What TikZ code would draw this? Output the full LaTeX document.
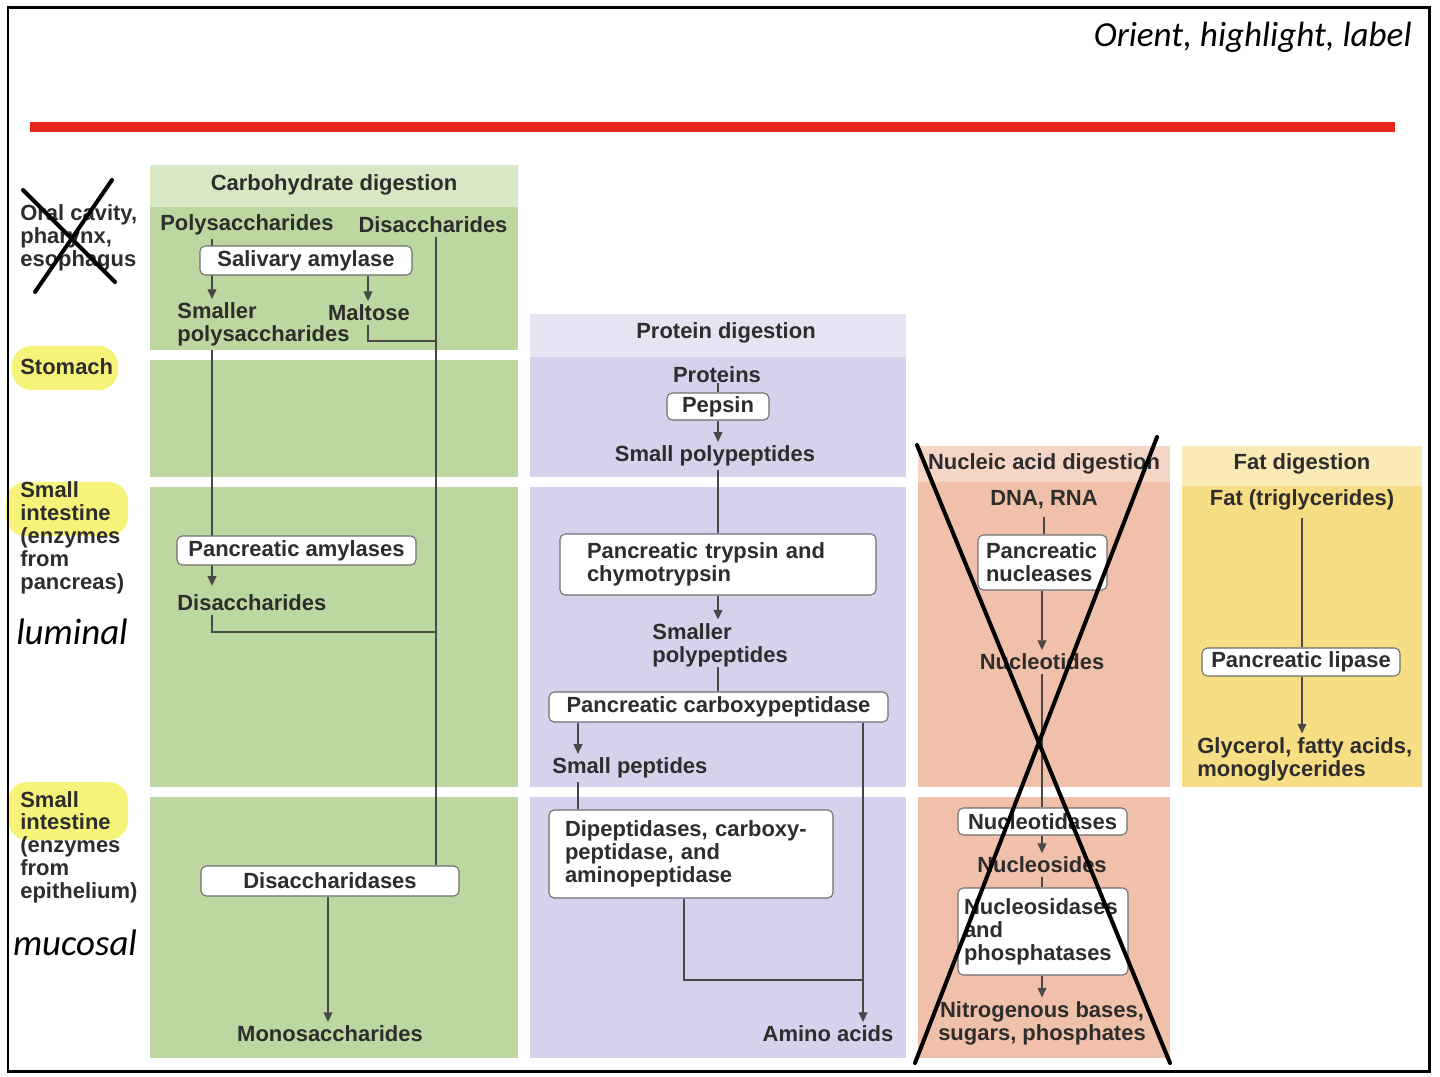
\documentclass[tikz,border=0pt]{standalone}
\usepackage{fontspec}
\setmainfont{Liberation Sans}
\newfontfamily\notefont{Carlito}
\usetikzlibrary{arrows.meta,positioning}

\definecolor{inkgray}{RGB}{45,45,45}
\definecolor{wiregray}{RGB}{72,72,72}
\definecolor{boxgray}{RGB}{110,110,110}
\definecolor{carbtop}{RGB}{214,233,196}
\definecolor{carbbody}{RGB}{188,216,160}
\definecolor{prottop}{RGB}{228,228,242}
\definecolor{protbody}{RGB}{212,211,235}
\definecolor{nuctop}{RGB}{245,214,198}
\definecolor{nucbody}{RGB}{240,192,170}
\definecolor{fattop}{RGB}{250,234,182}
\definecolor{fatbody}{RGB}{247,222,132}
\definecolor{marker}{RGB}{246,243,122}
\definecolor{redbar}{RGB}{232,40,30}

\newlength{\unitpx}
\setlength{\unitpx}{0.02cm}

\pgfdeclarelayer{panels}
\pgfdeclarelayer{links}
\pgfsetlayers{panels,links,main}

\tikzset{
  lbl/.style={font=\bfseries\fontsize{12.5}{13}\selectfont, text=inkgray, inner sep=0pt},
  side/.style={lbl, align=left, anchor=west},
  enz/.style={lbl, draw=boxgray, fill=white, rounded corners=3pt, line width=0.6pt},
  flow/.style={draw=wiregray, line width=0.75pt},
  arr/.style={flow, -{Triangle[width=5pt,length=5.5pt]}},
  hand/.style={font=\notefont\itshape\fontsize{21}{22}\selectfont, inner sep=0pt},
  strike/.style={line width=2.3pt, line cap=round},
  hilite/.style={fill=marker, rounded corners=11pt}
}

\begin{document}
\begin{tikzpicture}[x=0.02cm,y=-0.02cm]
\useasboundingbox (0,0) rectangle (1440,1077);

\begin{pgfonlayer}{panels}
  \fill[carbtop] (150,165) rectangle (518,207);
  \fill[carbbody] (150,207) rectangle (518,350);
  \fill[carbbody] (150,360) rectangle (518,477);
  \fill[carbbody] (150,487) rectangle (518,787);
  \fill[carbbody] (150,797) rectangle (518,1058);
  \fill[prottop] (530,314) rectangle (906,357);
  \fill[protbody] (530,357) rectangle (906,477);
  \fill[protbody] (530,487) rectangle (906,787);
  \fill[protbody] (530,797) rectangle (906,1058);
  \fill[nuctop] (918,446) rectangle (1170,482);
  \fill[nucbody] (918,482) rectangle (1170,787);
  \fill[nucbody] (918,797) rectangle (1170,1058);
  \fill[fattop] (1182,446) rectangle (1422,486);
  \fill[fatbody] (1182,486) rectangle (1422,787);
  \fill[hilite] (12,346) rectangle (118,390);
  \fill[hilite] (6,482) rectangle (128,536);
  \fill[hilite] (8,782) rectangle (128,840);
\end{pgfonlayer}

\draw[line width=1.7pt] (8,8) rectangle (1429,1071);
\node[font=\notefont\itshape\fontsize{20}{22}\selectfont, anchor=east, inner sep=0pt] (title) at (1412,37) {Orient, highlight, label};
\draw[redbar, line width=5.7pt] (30,127) -- (1395,127);

% stages
\node[side] (oral) at (20,238) {Oral cavity,\\pharynx,\\esophagus};
\node[side] (stom) at (20,367) {Stomach};
\node[side] (silum) at (20,538) {Small\\intestine\\(enzymes\\from\\pancreas)};
\node[hand] (lumi) at (72,632) {luminal};
\node[side] (simuc) at (20,847) {Small\\intestine\\(enzymes\\from\\epithelium)};
\node[hand] (muco) at (75,943) {mucosal};

% carbohydrate
\node[lbl] (carbhd) at (334,185) {Carbohydrate digestion};
\node[lbl] (poly) at (247,225) {Polysaccharides};
\node[lbl] (disa) at (433,225) {Disaccharides};
\node[enz, minimum width=212\unitpx, minimum height=29\unitpx] (sal) at (306,260.5) {Salivary amylase};
\node[side] (smpoly) at (177,324.5) {Smaller\\polysaccharides};
\node[lbl] (malt) at (369,313) {Maltose};
\node[enz, minimum width=239\unitpx, minimum height=29\unitpx] (pamy) at (296.5,550.5) {Pancreatic amylases};
\node[side] (disb) at (177,603) {Disaccharides};
\node[enz, minimum width=258\unitpx, minimum height=30\unitpx] (disase) at (330,881) {Disaccharidases};
\node[lbl] (mono) at (330,1034) {Monosaccharides};

% protein
\node[lbl] (prothd) at (726,333) {Protein digestion};
\node[lbl] (prot) at (717,375) {Proteins};
\node[enz, minimum width=102\unitpx, minimum height=27\unitpx] (peps) at (718,406.5) {Pepsin};
\node[lbl] (spoly) at (715,456) {Small polypeptides};
\node[enz, align=left, text width=262\unitpx, inner xsep=27\unitpx, minimum height=61\unitpx] (tryp) at (718,564.5) {Pancreatic trypsin and\\chymotrypsin};
\node[side] (smpp) at (652,645) {Smaller\\polypeptides};
\node[enz, minimum width=339\unitpx, minimum height=30\unitpx] (cpep) at (718.5,707) {Pancreatic carboxypeptidase};
\node[side] (spep) at (552,768) {Small peptides};
\node[enz, align=left, text width=252\unitpx, inner xsep=16\unitpx, minimum height=88\unitpx] (dipep) at (691,854) {Dipeptidases, carboxy-\\peptidase, and\\aminopeptidase};
\node[lbl] (amino) at (828,1034) {Amino acids};

% nucleic acid
\node[lbl] (nuchd) at (1044,464) {Nucleic acid digestion};
\node[lbl] (dna) at (1044,500) {DNA, RNA};
\node[enz, align=left, text width=113\unitpx, inner xsep=8\unitpx, minimum height=55\unitpx] (nucl) at (1042.5,562.5) {Pancreatic\\nucleases};
\node[lbl] (ntide) at (1042,662) {Nucleotides};
\node[enz, minimum width=169\unitpx, minimum height=27\unitpx] (ntase) at (1042.5,821.5) {Nucleotidases};
\node[lbl] (nside) at (1042,865) {Nucleosides};
\node[enz, align=left, text width=158\unitpx, inner xsep=6\unitpx, minimum height=87\unitpx] (nsase) at (1043,931.5) {Nucleosidases\\and\\phosphatases};
\node[lbl, align=center] (nbase) at (1042,1023) {Nitrogenous bases,\\sugars, phosphates};

% fat
\node[lbl] (fathd) at (1302,464) {Fat digestion};
\node[lbl] (fat) at (1302,500) {Fat (triglycerides)};
\node[enz, minimum width=198\unitpx, minimum height=28\unitpx] (lip) at (1301,662) {Pancreatic lipase};
\node[side] (glyc) at (1197,759) {Glycerol, fatty acids,\\monoglycerides};

\coordinate (c1) at (212,0);
\coordinate (c2) at (368,0);
\coordinate (c3) at (436,0);
\coordinate (c4) at (328,0);
\coordinate (mjoin) at (436,341);
\coordinate (djoin) at (436,632);
\coordinate (p1) at (718,0);
\coordinate (p2) at (578,0);
\coordinate (p3) at (863,0);
\coordinate (p4) at (684,0);
\coordinate (ajoin) at (863,980);
\coordinate (f1) at (1302,0);

\begin{pgfonlayer}{links}
  \draw[arr] ([yshift=-2pt]poly.south -| c1) -- ([yshift=2pt]smpoly.north -| c1);
  \draw[arr] (sal.south -| c2) -- ([yshift=2pt]malt.north -| c2);
  \draw[flow] ([yshift=-2pt]malt.south -| c2) |- (mjoin);
  \draw[flow] ([yshift=-2pt]disa.south -| c3) -- (disase.north -| c3);
  \draw[arr] ([yshift=-2pt]smpoly.south -| c1) -- ([yshift=5pt]disb.north -| c1);
  \draw[flow] ([yshift=-2pt]disb.south -| c1) |- (djoin);
  \draw[arr] (disase.south -| c4) -- ([yshift=2pt]mono.north -| c4);

  \draw[flow] (prot.south -| p1) -- (peps.north -| p1);
  \draw[arr] (peps.south -| p1) -- ([yshift=2pt]spoly.north -| p1);
  \draw[flow] ([yshift=-2pt]spoly.south -| p1) -- (tryp.north -| p1);
  \draw[arr] (tryp.south -| p1) -- ([yshift=2pt]smpp.north -| p1);
  \draw[flow] (smpp.south -| p1) -- (cpep.north -| p1);
  \draw[arr] (cpep.south -| p2) -- ([yshift=2pt]spep.north -| p2);
  \draw[flow] ([yshift=-2pt]spep.south -| p2) -- (dipep.north -| p2);
  \draw[arr] (cpep.south -| p3) -- ([yshift=2pt]amino.north -| p3);
  \draw[flow] (dipep.south -| p4) |- (ajoin);

  \draw[flow] ([yshift=-4pt]dna.south) -- (nucl.north -| dna);
  \draw[arr] (nucl.south -| ntide) -- ([yshift=2pt]ntide.north);
  \draw[flow] ([yshift=-2pt]ntide.south) -- (ntase.north -| ntide);
  \draw[arr] (ntase.south -| nside) -- ([yshift=2pt]nside.north);
  \draw[flow] ([yshift=-2pt]nside.south) -- (nsase.north -| nside);
  \draw[arr] (nsase.south -| nbase) -- ([yshift=2pt]nbase.north);

  \draw[flow] ([yshift=-4pt]fat.south -| f1) -- (lip.north -| f1);
  \draw[arr] (lip.south -| f1) -- ([yshift=2pt]glyc.north -| f1);
\end{pgfonlayer}

\draw[strike] (23,190) -- (115,282);
\draw[strike] (112,180) -- (35,292);
\draw[strike] (917,445) -- (1170,1063);
\draw[strike] (1157,437) -- (915,1063);
\end{tikzpicture}
\end{document}
